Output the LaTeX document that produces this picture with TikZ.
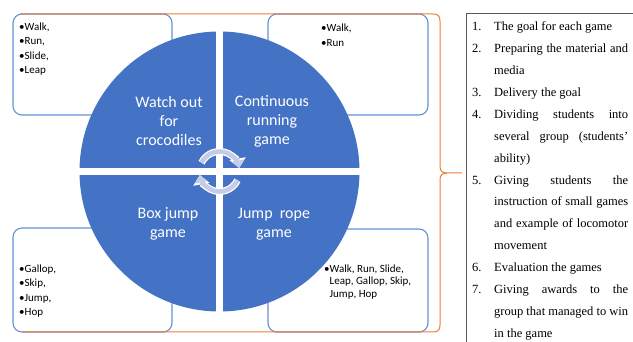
\documentclass[tikz,border=0pt]{standalone}
\usepackage{fontspec}
\setmainfont{Liberation Serif}
\newfontfamily\calib{Carlito}
\usetikzlibrary{arrows.meta}
\definecolor{circblue}{RGB}{68,114,196}
\definecolor{boxblue}{RGB}{100,145,215}
\definecolor{braceorange}{RGB}{237,125,49}
\definecolor{arrlav}{RGB}{196,204,232}
\definecolor{tablegray}{RGB}{90,90,90}
\tikzset{
  gamebox/.style={draw=boxblue, line width=1.1pt, fill=white, rounded corners=9pt},
  gametext/.style={font=\calib\fontsize{16}{19}\selectfont, text=white, align=center, inner sep=0pt},
  movetext/.style={font=\calib\fontsize{11}{14.5}\selectfont, align=left, inner sep=0pt, anchor=west},
  movetextb/.style={font=\calib\fontsize{11}{12.8}\selectfont, align=left, inner sep=0pt, anchor=west},
  listtext/.style={font=\fontsize{12.5}{15}\selectfont, anchor=base west, inner sep=0pt},
  braceline/.style={draw=braceorange, line width=1pt},
  rimarrow/.style={white, line width=7pt, -{Triangle[width=16pt,length=9.5pt]}},
  lavarrow/.style={arrlav, line width=4.6pt, -{Triangle[width=12.5pt,length=7.5pt]}},
}
\newcommand{\jline}[1]{\makebox[134pt][s]{#1}}
\begin{document}
\begin{tikzpicture}[x=1pt,y=-1pt]
\useasboundingbox (0,0) rectangle (633,342);
% boxes behind the circle
\draw[gamebox] (13,14) rectangle (172,115);
\draw[gamebox] (268,14) rectangle (428,115);
\draw[gamebox] (13,228) rectangle (172,332);
\draw[gamebox] (268,229) rectangle (428,332);
% orange brace
\draw[braceline] (20,14) -- (433,14) .. controls (438,14) and (440,16) .. (440,21) -- (440,166)
  .. controls (440,171) and (442,173) .. (447,173) -- (462,173);
\draw[braceline] (447,173) .. controls (442,173) and (440,175) .. (440,180) -- (440,325)
  .. controls (440,330) and (438,332) .. (433,332) -- (22,332);
% circle with gaps
\coordinate (cc) at (219.5,171.5);
\fill[circblue] (cc) circle[radius=140];
\fill[white] (216,28) rectangle (223,315);
\fill[white] (77,168) rectangle (363,175);
% circular arrows
\draw[rimarrow] ([shift={(206:20)}]cc) arc[start angle=206, end angle=350, radius=20];
\draw[lavarrow] ([shift={(206:20)}]cc) arc[start angle=206, end angle=350, radius=20];
\draw[rimarrow] ([shift={(26:20)}]cc) arc[start angle=26, end angle=170, radius=20];
\draw[lavarrow] ([shift={(26:20)}]cc) arc[start angle=26, end angle=170, radius=20];
% game names
\node[gametext] (watch) at (169,121) {Watch out\\for\\crocodiles};
\node[gametext] (contin) at (272,121) {Continuous\\running\\game};
\node[gametext] (boxj) at (168,224) {Box jump\\game};
\node[gametext] (jrope) at (274,224) {Jump\ \ rope\\game};
% movements
\node[movetext] (mtl) at (19,49) {•Walk,\\•Run,\\•Slide,\\•Leap};
\node[movetext] (mtr) at (321,35) {•Walk,\\•Run};
\node[movetext] (mbl) at (19,291) {•Gallop,\\•Skip,\\•Jump,\\•Hop};
\node[movetextb] (mbr) at (324,282) {•Walk, Run, Slide,\\\hphantom{•}Leap, Gallop, Skip,\\\hphantom{•}Jump, Hop};
% table border
\draw[tablegray, line width=1pt] (633,14) -- (466,14) -- (466,342);
% steps list
\node[listtext] (n1) at (472,31) {1.};
\node[listtext] (l0) at (494,31) {The goal for each game};
\node[listtext] (n2) at (472,52.86) {2.};
\node[listtext] (l1) at (494,52.86) {\jline{Preparing the material and}};
\node[listtext] (l2) at (494,74.72) {media};
\node[listtext] (n3) at (472,96.58) {3.};
\node[listtext] (l3) at (494,96.58) {Delivery the goal};
\node[listtext] (n4) at (472,118.44) {4.};
\node[listtext] (l4) at (494,118.44) {\jline{Dividing students into}};
\node[listtext] (l5) at (494,140.3) {\jline{several group (students’}};
\node[listtext] (l6) at (494,162.16) {ability)};
\node[listtext] (n5) at (472,184.02) {5.};
\node[listtext] (l7) at (494,184.02) {\jline{Giving students the}};
\node[listtext] (l8) at (494,205.88) {\jline{instruction of small games}};
\node[listtext] (l9) at (494,227.74) {\jline{and example of locomotor}};
\node[listtext] (l10) at (494,249.6) {movement};
\node[listtext] (n6) at (472,271.46) {6.};
\node[listtext] (l11) at (494,271.46) {Evaluation the games};
\node[listtext] (n7) at (472,293.32) {7.};
\node[listtext] (l12) at (494,293.32) {\jline{Giving awards to the}};
\node[listtext] (l13) at (494,315.18) {\jline{group that managed to win}};
\node[listtext] (l14) at (494,337.04) {in the game};
\end{tikzpicture}
\end{document}
